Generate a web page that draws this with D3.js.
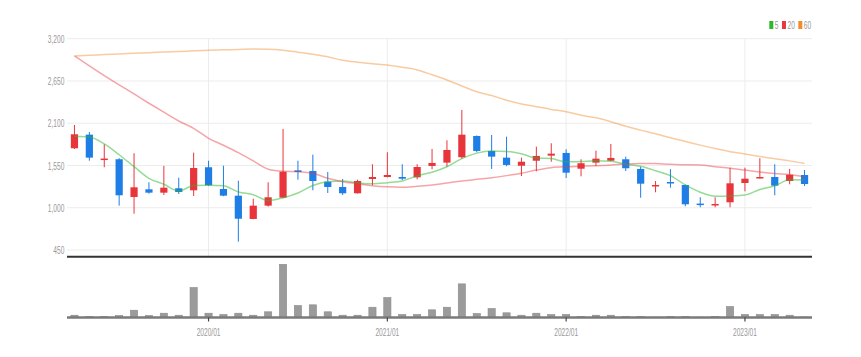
<!DOCTYPE html>
<html>
<head>
<meta charset="utf-8">
<script src="https://cdn.jsdelivr.net/npm/d3@7"></script>
<style>
  html, body { margin: 0; padding: 0; background: #fff; }
  svg { display: block; }
  text { font-family: "Liberation Sans", Arial, sans-serif; }
</style>
</head>
<body>
<div id="chart"></div>
<script>
const months = ["2019/04","2019/05","2019/06","2019/07","2019/08","2019/09","2019/10","2019/11","2019/12",
  "2020/01","2020/02","2020/03","2020/04","2020/05","2020/06","2020/07","2020/08","2020/09","2020/10","2020/11","2020/12",
  "2021/01","2021/02","2021/03","2021/04","2021/05","2021/06","2021/07","2021/08","2021/09","2021/10","2021/11","2021/12",
  "2022/01","2022/02","2022/03","2022/04","2022/05","2022/06","2022/07","2022/08","2022/09","2022/10","2022/11","2022/12",
  "2023/01","2023/02","2023/03","2023/04","2023/05"];
const openP  = [1774,1951,1622,1631,1140,1240,1196,1253,1227,1527,1244,1157,854,1027,1131,1487,1478,1339,1270,1188,1374,1400,1400,1396,1544,1587,1657,1934,1739,1652,1547,1612,1678,1713,1508,1587,1612,1631,1505,1279,1335,1296,1054,1032,1071,1322,1383,1400,1348,1426];
const highP  = [2077,1986,1826,1645,1709,1331,1544,1391,1717,1612,1547,1352,1118,1331,2025,1612,1691,1465,1374,1365,1566,1722,1566,1566,1765,1878,2273,1940,1947,1925,1652,1795,1839,1761,1631,1743,1830,1665,1534,1348,1501,1300,1136,1136,1521,1521,1644,1566,1505,1491];
const lowP   = [1765,1612,1527,1027,923,1183,1166,1179,1153,1285,1150,558,850,1014,1125,1365,1227,1192,1166,1185,1292,1395,1361,1370,1501,1534,1639,1722,1505,1540,1413,1474,1599,1387,1409,1544,1605,1478,1131,1201,1261,1019,1006,1006,1006,1214,1380,1162,1305,1283];
const closeP = [1956,1652,1640,1162,1266,1196,1261,1205,1517,1292,1157,857,1027,1136,1469,1465,1348,1270,1188,1348,1400,1426,1378,1530,1583,1752,1951,1739,1665,1557,1599,1674,1704,1456,1579,1639,1648,1514,1313,1296,1318,1045,1040,1049,1318,1378,1400,1287,1430,1309];
const volume = [23,10,10,20,73,20,43,23,300,43,30,43,23,57,533,120,127,57,23,23,103,200,30,30,77,103,337,40,90,47,23,43,30,30,10,23,23,10,10,3,10,10,3,10,110,30,30,30,23,5];
const ma5  = [1930,1920,1830,1690,1535,1383,1305,1218,1289,1294,1286,1206,1170,1094,1129,1191,1289,1338,1348,1324,1311,1326,1348,1416,1463,1534,1639,1711,1738,1733,1702,1647,1640,1598,1602,1610,1605,1567,1539,1482,1418,1297,1202,1150,1154,1166,1237,1286,1363,1361];
const ma20 = [2975,2845,2719,2598,2481,2360,2243,2129,2034,1904,1813,1717,1609,1502,1475,1470,1450,1383,1339,1313,1287,1272,1266,1280,1296,1322,1348,1370,1391,1418,1449,1490,1522,1534,1540,1547,1556,1570,1577,1575,1565,1560,1556,1535,1515,1490,1465,1445,1430,1405];
const ma60 = [2975,2985,2993,3002,3010,3018,3026,3034,3042,3050,3055,3060,3065,3062,3050,3025,2998,2965,2920,2895,2875,2857,2828,2793,2730,2663,2585,2510,2460,2400,2350,2315,2280,2250,2205,2170,2120,2060,2010,1962,1910,1863,1815,1770,1730,1700,1667,1638,1610,1575];
const priceTicks = [450,1000,1550,2100,2650,3200];
const yearTicks = ["2020/01","2021/01","2022/01","2023/01"];
const maNames = ["5","20","60"];
const maColors = ["#2db82d","#e8383d","#f08c2e"];

const W = 861, H = 357;
const svg = d3.select("#chart").append("svg").attr("width", W).attr("height", H);
svg.append("rect").attr("width", W).attr("height", H).attr("fill", "#fff");

const left = 67, right = 812;
const x = d3.scaleBand().domain(months).range([left, right]).padding(0);
const cx = d => x(d) + x.bandwidth() / 2;
const y = d3.scaleLinear().domain([450, 3200]).range([250, 38.7]);
const yv = d3.scaleLinear().domain([0, 533]).range([317.5, 264.3]);
const SX = 0.6;

// grid
svg.append("g").selectAll("line").data(priceTicks).join("line")
  .attr("x1", left).attr("x2", right).attr("y1", d => y(d)).attr("y2", d => y(d))
  .attr("stroke", "#ececec").attr("stroke-width", 1);
svg.append("g").selectAll("line").data(yearTicks).join("line")
  .attr("x1", d => cx(d)).attr("x2", d => cx(d)).attr("y1", y(3200)).attr("y2", 256)
  .attr("stroke", "#ececec").attr("stroke-width", 1);

// y axis
const yAxis = svg.append("g").attr("transform", `translate(${left},0)`)
  .call(d3.axisLeft(y).tickValues(priceTicks).tickSize(0).tickFormat(d3.format(",")));
yAxis.select(".domain").remove();
yAxis.selectAll("text").attr("x", -4.5).attr("transform", `scale(${SX},1)`)
  .attr("fill", "#999").style("font-size", "11px");

// candles
const idx = d3.range(months.length);
const candles = svg.append("g").selectAll("g").data(idx).join("g");
const col = i => closeP[i] >= openP[i] ? "#e8353b" : "#1e7ee6";
candles.append("line")
  .attr("x1", i => cx(months[i])).attr("x2", i => cx(months[i]))
  .attr("y1", i => y(highP[i])).attr("y2", i => y(lowP[i]))
  .attr("stroke", col).attr("stroke-width", 1);
candles.append("rect")
  .attr("x", i => cx(months[i]) - 3.6).attr("width", 7.2)
  .attr("y", i => y(Math.max(openP[i], closeP[i])))
  .attr("height", i => Math.max(1.5, Math.abs(y(openP[i]) - y(closeP[i]))))
  .attr("fill", col);

// moving averages
[ma5, ma20, ma60].forEach((arr, k) => {
  const line = d3.line().x((d, i) => cx(months[i])).y(d => y(d)).curve(d3.curveMonotoneX);
  svg.append("path").datum(arr).attr("d", line).attr("fill", "none")
    .attr("stroke", maColors[k]).attr("stroke-opacity", k === 0 ? 0.5 : 0.45).attr("stroke-width", 1.5);
});

// price panel bottom line
svg.append("line").attr("x1", left).attr("x2", right).attr("y1", 256.8).attr("y2", 256.8)
  .attr("stroke", "#333").attr("stroke-width", 2);

// volume bars
svg.append("g").selectAll("rect").data(idx).join("rect")
  .attr("x", i => cx(months[i]) - 3.6).attr("width", 7.2)
  .attr("y", i => yv(volume[i])).attr("height", i => yv(0) - yv(volume[i]))
  .attr("fill", "#9b9b9b").attr("stroke", "#8a8a8a").attr("stroke-width", 0.6);

// volume baseline + x axis
const xAxis = svg.append("g").attr("transform", `translate(0,${yv(0)})`)
  .call(d3.axisBottom(x).tickValues(yearTicks).tickSize(4).tickPadding(7));
xAxis.select(".domain").attr("stroke", "#7a7a7a").attr("stroke-width", 2.6)
  .attr("d", `M${left},0H${right}`);
xAxis.selectAll(".tick line").attr("stroke", "#444").attr("stroke-width", 1.2);
xAxis.selectAll("text").attr("transform", `scale(${SX},1)`).attr("fill", "#999").style("font-size", "11px");

// legend
const lg = svg.append("g");
let lx = 769.3;
maNames.forEach((n, k) => {
  lg.append("rect").attr("x", lx).attr("y", 21).attr("width", 4).attr("height", 8).attr("fill", maColors[k]);
  const t = lg.append("text").attr("transform", `translate(${lx + 5.5},29) scale(${SX},1)`)
    .attr("fill", "#999").style("font-size", "11px").text(n);
  lx += 5.5 + n.length * 11 * 0.556 * SX + 3.5;
});
</script>
</body>
</html>
